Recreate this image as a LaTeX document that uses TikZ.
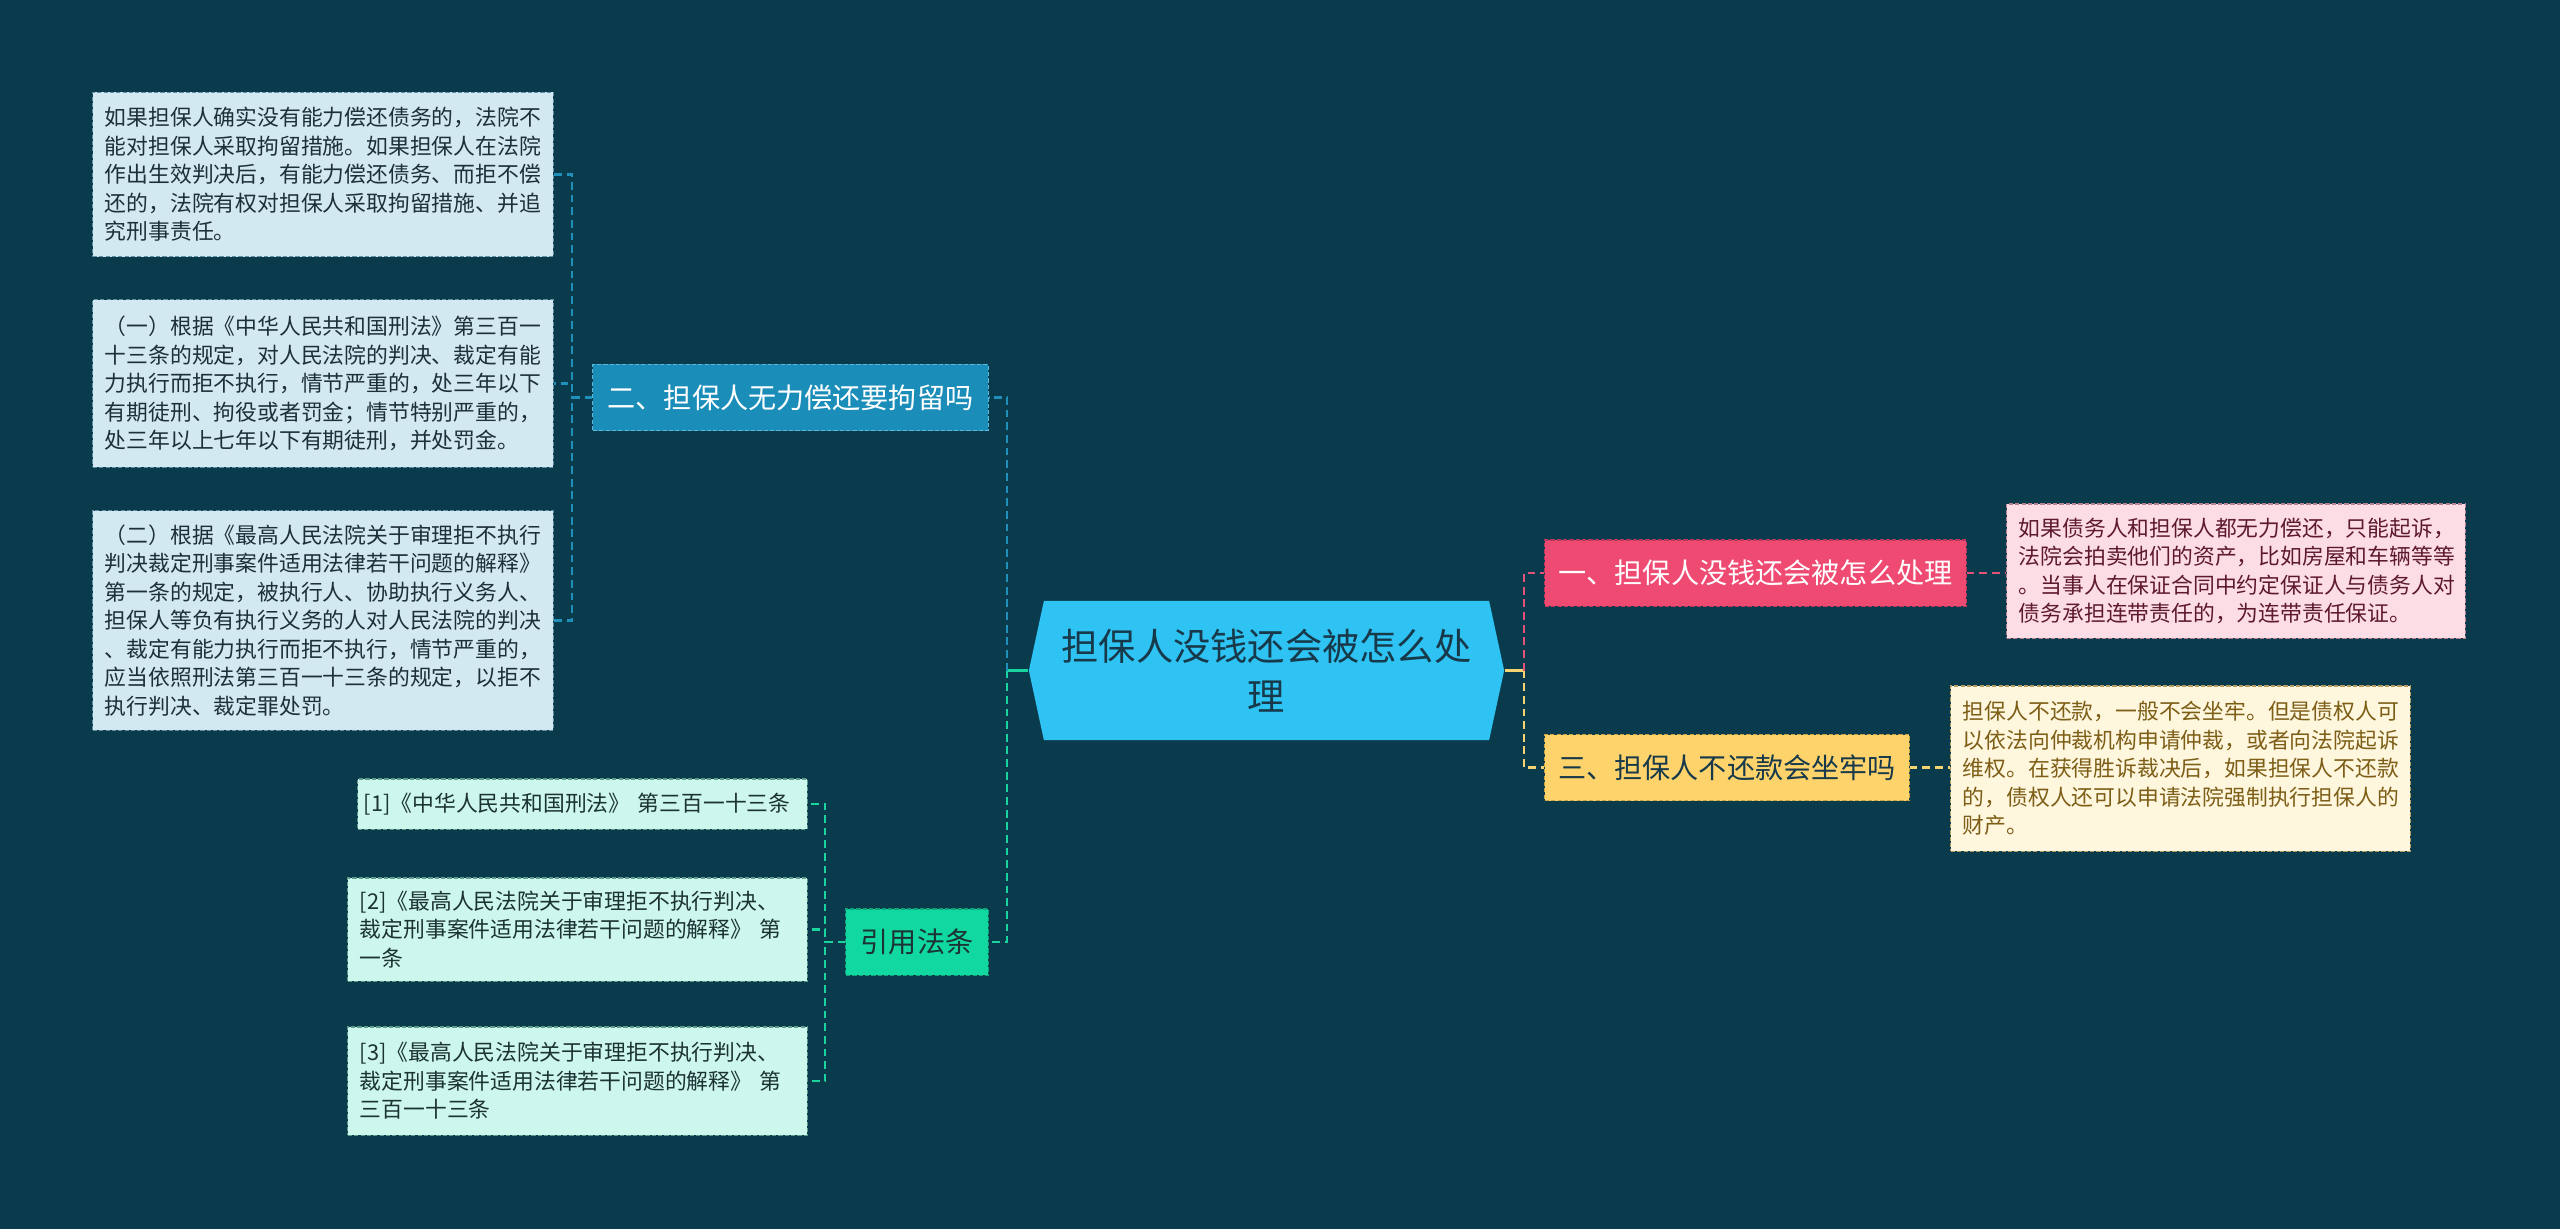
\documentclass[tikz,border=0pt]{standalone}
\usepackage{fontspec}
\newfontfamily\cjk{Noto Sans CJK SC}

\definecolor{bgteal}{HTML}{093B4D}
\definecolor{rootblue}{HTML}{2EC3F2}
\definecolor{roottext}{HTML}{17394A}
\definecolor{erblue}{HTML}{1B8DB9}
\definecolor{erline}{HTML}{5BB8DA}
\definecolor{leafblue}{HTML}{D2E9F2}
\definecolor{leafblueline}{HTML}{5E8FA3}
\definecolor{leaftext}{HTML}{1D2F38}
\definecolor{yipink}{HTML}{EF4A72}
\definecolor{yipinkline}{HTML}{B8375A}
\definecolor{leafpink}{HTML}{FDDDE5}
\definecolor{leafpinkline}{HTML}{B98290}
\definecolor{pinktext}{HTML}{5E1A2D}
\definecolor{sanyellow}{HTML}{FED36B}
\definecolor{sanyellowline}{HTML}{C9A445}
\definecolor{leafyellow}{HTML}{FFF6DE}
\definecolor{leafyellowline}{HTML}{B59C62}
\definecolor{yellowtext}{HTML}{7D5E16}
\definecolor{yygreen}{HTML}{11D7A1}
\definecolor{yygreenline}{HTML}{0FA37C}
\definecolor{leafgreen}{HTML}{CDF6EC}
\definecolor{leafgreenline}{HTML}{5E9C8E}
\definecolor{greentext}{HTML}{1C3333}
\definecolor{linkblue}{HTML}{1E90BA}
\definecolor{linkgreen}{HTML}{19D49F}
\definecolor{linkpink}{HTML}{E3507A}
\definecolor{linkyellow}{HTML}{F4D370}

\tikzset{
  link/.style={draw=#1, line width=0.6pt, dash pattern=on 2.2pt off 1.4pt},
  stub/.style={draw=#1, line width=0.6pt},
  leaf/.style={draw, line width=0.3pt, dash pattern=on 1.2pt off 0.6pt,
    font=\cjk\fontsize{6.2}{8.1}\selectfont, align=left,
    inner xsep=0.12cm, inner ysep=0pt},
  branch/.style={draw, line width=0.3pt, dash pattern=on 1.2pt off 0.6pt,
    font=\cjk\fontsize{8}{10}\selectfont, minimum height=0.66cm, inner sep=0pt},
  rootnode/.style={minimum width=4.75cm, minimum height=1.39cm, inner sep=0pt,
    align=center, text=roottext, font=\cjk\fontsize{10.6}{14.2}\selectfont,
    path picture={\fill[rootblue]
      ([xshift=0.15cm]path picture bounding box.north west) --
      ([xshift=-0.15cm]path picture bounding box.north east) --
      (path picture bounding box.east) --
      ([xshift=-0.15cm]path picture bounding box.south east) --
      ([xshift=0.15cm]path picture bounding box.south west) --
      (path picture bounding box.west) -- cycle;}}
}

\begin{document}
\begin{tikzpicture}[x=0.01cm,y=-0.01cm]
\fill[bgteal] (0,0) rectangle (2560,1229);
\useasboundingbox (0,0) rectangle (2560,1229);

% centre
\node[rootnode] (root) at (1266.5,670.5) {担保人没钱还会被怎么处\\理};

% branches
\node[branch, fill=erblue, draw=erline, text=white, minimum width=3.95cm] (erjl) at (790.5,397.5) {二、担保人无力偿还要拘留吗};
\node[branch, fill=yygreen, draw=yygreenline, text=greentext, minimum width=1.42cm] (yyfl) at (917,942) {引用法条};
\node[branch, fill=yipink, draw=yipinkline, text=white, minimum width=4.21cm] (yi) at (1755.5,573) {一、担保人没钱还会被怎么处理};
\node[branch, fill=sanyellow, draw=sanyellowline, text=roottext, minimum width=3.64cm] (san) at (1727,767.5) {三、担保人不还款会坐牢吗};

% leaves of 二
\node[leaf, fill=leafblue, draw=leafblueline, text=leaftext, text width=4.36cm, minimum height=1.64cm] (jl1) at (323,174.5)
  {如果担保人确实没有能力偿还债务的，法院不\\能对担保人采取拘留措施。如果担保人在法院\\作出生效判决后，有能力偿还债务、而拒不偿\\还的，法院有权对担保人采取拘留措施、并追\\究刑事责任。};
\node[leaf, fill=leafblue, draw=leafblueline, text=leaftext, text width=4.36cm, minimum height=1.67cm] (jl2) at (323,383.5)
  {（一）根据《中华人民共和国刑法》第三百一\\十三条的规定，对人民法院的判决、裁定有能\\力执行而拒不执行，情节严重的，处三年以下\\有期徒刑、拘役或者罚金；情节特别严重的，\\处三年以上七年以下有期徒刑，并处罚金。};
\node[leaf, fill=leafblue, draw=leafblueline, text=leaftext, text width=4.36cm, minimum height=2.19cm] (jl3) at (323,620.5)
  {（二）根据《最高人民法院关于审理拒不执行\\判决裁定刑事案件适用法律若干问题的解释》\\第一条的规定，被执行人、协助执行义务人、\\担保人等负有执行义务的人对人民法院的判决\\、裁定有能力执行而拒不执行，情节严重的，\\应当依照刑法第三百一十三条的规定，以拒不\\执行判决、裁定罪处罚。};

% leaves of 引用法条
\node[leaf, fill=leafgreen, draw=leafgreenline, text=greentext, text width=4.37cm, inner xsep=0.06cm, minimum height=0.50cm] (ft1) at (582.5,804)
  {\mbox{[1]《中华人民共和国刑法》 第三百一十三条}};
\node[leaf, fill=leafgreen, draw=leafgreenline, text=greentext, text width=4.35cm, minimum height=1.03cm] (ft2) at (577.5,929.5)
  {[2]《最高人民法院关于审理拒不执行判决、\\裁定刑事案件适用法律若干问题的解释》 第\\一条};
\node[leaf, fill=leafgreen, draw=leafgreenline, text=greentext, text width=4.35cm, minimum height=1.08cm] (ft3) at (577.5,1081)
  {[3]《最高人民法院关于审理拒不执行判决、\\裁定刑事案件适用法律若干问题的解释》 第\\三百一十三条};

% leaves on the right
\node[leaf, fill=leafpink, draw=leafpinkline, text=pinktext, text width=4.34cm, minimum height=1.34cm] (chuli) at (2236,571)
  {如果债务人和担保人都无力偿还，只能起诉，\\法院会拍卖他们的资产，比如房屋和车辆等等\\。当事人在保证合同中约定保证人与债务人对\\债务承担连带责任的，为连带责任保证。};
\node[leaf, fill=leafyellow, draw=leafyellowline, text=yellowtext, text width=4.35cm, minimum height=1.65cm] (zuolao) at (2180.5,768.5)
  {担保人不还款，一般不会坐牢。但是债权人可\\以依法向仲裁机构申请仲裁，或者向法院起诉\\维权。在获得胜诉裁决后，如果担保人不还款\\的，债权人还可以申请法院强制执行担保人的\\财产。};

% connectors
\draw[stub=linkgreen] (root.west) -- ++(-21,0) coordinate (rootl);
\draw[link=linkblue] (rootl) |- (erjl.east);
\draw[link=linkgreen] (rootl) |- (yyfl.east);
\draw[stub=linkyellow] (root.east) -- ++(19,0) coordinate (rootr);
\draw[link=linkpink] (rootr) |- (yi.west);
\draw[link=linkyellow] (rootr) |- (san.west);

\draw[link=linkblue] (erjl.west) -- ++(-20,0) |- (jl1.east);
\draw[link=linkblue] (erjl.west) -- ++(-20,0) |- (jl2.east);
\draw[link=linkblue] (erjl.west) -- ++(-20,0) |- (jl3.east);

\draw[link=linkgreen] (yyfl.west) -- ++(-20,0) |- (ft1.east);
\draw[link=linkgreen] (yyfl.west) -- ++(-20,0) |- (ft2.east);
\draw[link=linkgreen] (yyfl.west) -- ++(-20,0) |- (ft3.east);

\draw[link=linkpink] (yi.east) -- (yi.east -| chuli.west);
\draw[link=linkyellow] (san.east) -- (san.east -| zuolao.west);
\end{tikzpicture}
\end{document}
